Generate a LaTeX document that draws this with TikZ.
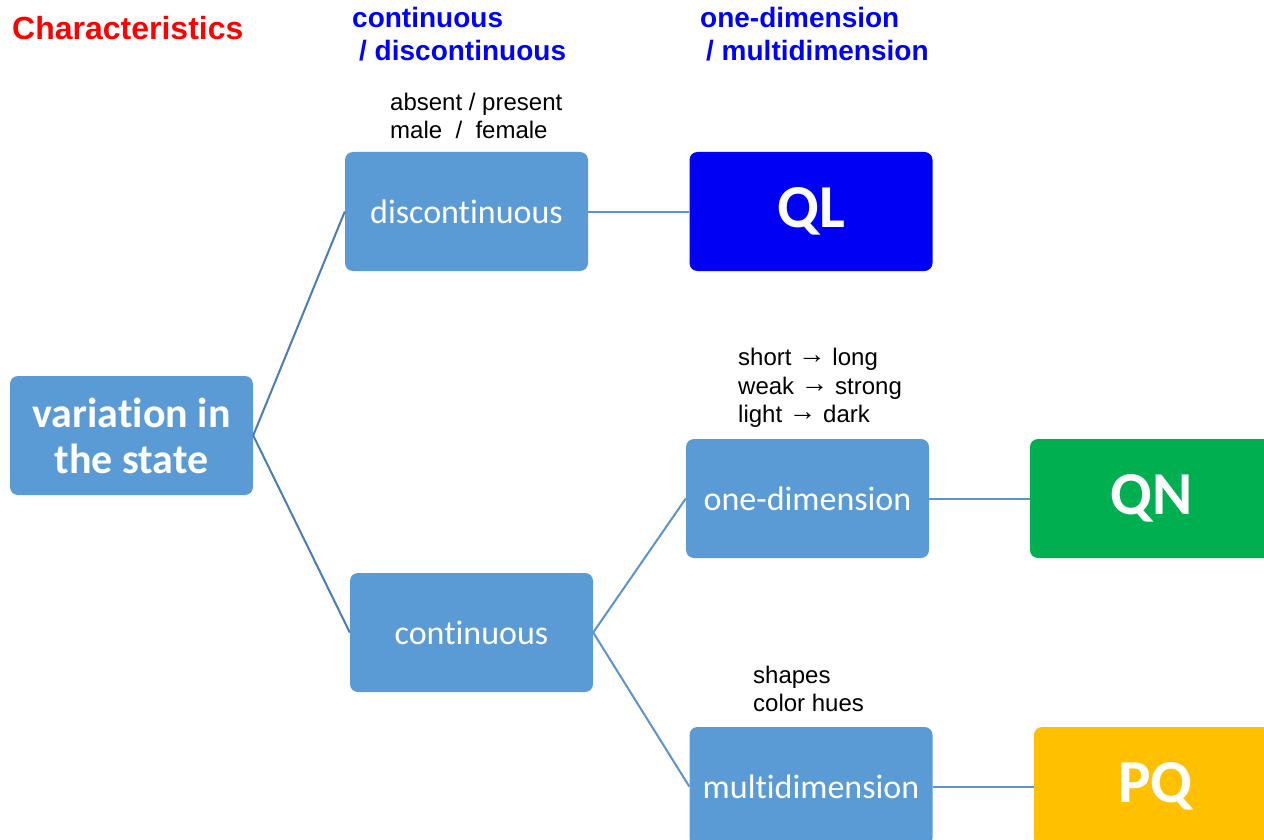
\documentclass[tikz,border=0pt]{standalone}
\usepackage{fontspec}
\setmainfont{Liberation Sans}
\newfontfamily\boxfont[Ligatures={NoCommon,NoContextual,NoRare}]{Carlito}
\newcommand{\myarrow}{\raisebox{1.5pt}{\scalebox{1.15}{\bfseries →}}}
\newcommand{\tbrk}{\kern0pt }
\definecolor{boxblue}{HTML}{5B9BD5}
\definecolor{qlblue}{HTML}{0000F5}
\definecolor{qngreen}{HTML}{00B050}
\definecolor{pqyellow}{HTML}{FFC000}
\definecolor{linedark}{HTML}{4A7DB5}
\definecolor{linelight}{HTML}{5B93CF}
\begin{document}
\begin{tikzpicture}[x=1pt,y=-1pt,
  box/.style={rounded corners=8pt, minimum width=243pt, minimum height=119pt,
    inner sep=0pt, text=white, fill=boxblue, font=\boxfont\fontsize{34}{40}\selectfont},
  bigbox/.style={box, font=\boxfont\bfseries\fontsize{61}{70}\selectfont},
  conn/.style={line width=2pt},
  head/.style={anchor=base west, inner sep=0pt, text=blue, font=\bfseries\fontsize{28}{32}\selectfont},
  note/.style={anchor=base west, inner sep=0pt, text=black, font=\fontsize{24}{28}\selectfont}]
\useasboundingbox (0,0) rectangle (1264,840);
\clip (0,0) rectangle (1264,840);
\fill[white] (0,0) rectangle (1264,840);

% boxes
\node[box, align=center, font=\boxfont\bfseries\fontsize{42}{46}\selectfont] (var) at (131.5,435.5) {variat\tbrk ion in\\the state};
\node[box] (disc) at (466.5,211.5) {discont\tbrk inuous};
\node[box] (cont) at (471.5,632.5) {cont\tbrk inuous};
\node[bigbox, fill=qlblue] (ql) at (811,211.5) {QL};
\node[box] (one) at (807.5,498.5) {one-dimension};
\node[bigbox, fill=qngreen] (qn) at (1151.5,498.5) {QN};
\node[box] (multi) at (811,786.5) {mult\tbrk idimension};
\node[bigbox, fill=pqyellow] (pq) at (1155.5,786.5) {PQ};

% connectors
\draw[conn, linedark] (var.east) -- (disc.west);
\draw[conn, linedark] (var.east) -- (cont.west);
\draw[conn, linelight] (disc.east) -- (ql.west);
\draw[conn, linelight] (cont.east) -- (one.west);
\draw[conn, linelight] (cont.east) -- (multi.west);
\draw[conn, linelight] (one.east) -- (qn.west);
\draw[conn, linelight] (multi.east) -- (pq.west);

% headings
\node[anchor=base west, inner sep=0pt, text=red, font=\bfseries\fontsize{32}{36}\selectfont] (char) at (12,40) {Characteristics};
\node[head] (h1a) at (352,28) {continuous};
\node[head] (h1b) at (359,61) {/ discontinuous};
\node[head] (h2a) at (700,28) {one-dimension};
\node[head] (h2b) at (706,61) {/ multidimension};

% notes
\node[note] (n1) at (390,111) {absent / present};
\node[note] (n2) at (390,139) {male\ \ /\ \ female};
\node[note] (n3) at (738,365) {short \myarrow{} long};
\node[note] (n4) at (738,394) {weak \myarrow{} strong};
\node[note] (n5) at (738,422) {light \myarrow{} dark};
\node[note] (n6) at (753,683) {shapes};
\node[note] (n7) at (753,711) {color hues};
\end{tikzpicture}
\end{document}
